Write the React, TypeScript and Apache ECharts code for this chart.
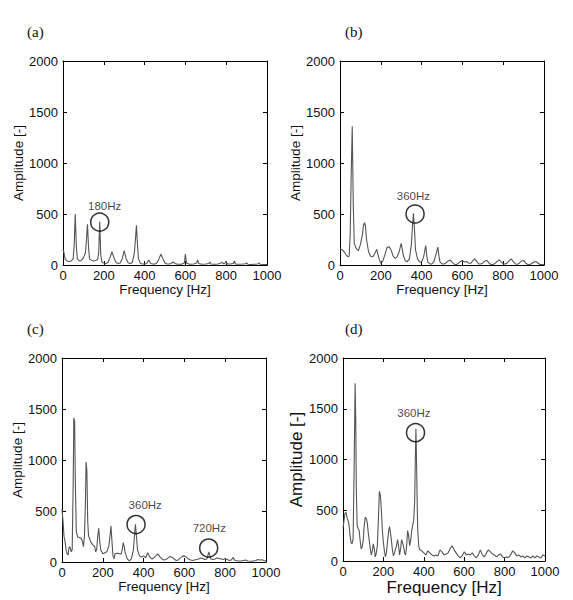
import React, { useEffect, useRef } from "react";
import * as echarts from "echarts";

// ---------- data ----------
const xTicks = [0, 200, 400, 600, 800, 1000];
const yTicks = [0, 500, 1000, 1500, 2000];

const freqA = [0, 5, 10, 20, 30, 40, 50, 55, 60, 65, 70, 80, 90, 100, 110, 115, 120, 125, 130, 140, 150, 160, 170, 175, 180, 185, 190, 200, 210, 220, 230, 240, 250, 260, 270, 280, 290, 300, 310, 320, 330, 340, 350, 355, 360, 365, 370, 380, 390, 400, 410, 420, 430, 440, 450, 460, 470, 480, 490, 500, 510, 520, 530, 540, 550, 560, 580, 595, 600, 605, 620, 640, 655, 660, 665, 680, 700, 715, 720, 725, 740, 760, 780, 790, 800, 805, 820, 835, 840, 845, 860, 880, 895, 900, 905, 920, 940, 955, 960, 965, 980, 1000];
const ampA = [150, 120, 60, 40, 35, 40, 60, 200, 500, 200, 60, 40, 45, 70, 120, 250, 400, 180, 60, 45, 40, 45, 55, 120, 425, 100, 30, 20, 15, 25, 70, 130, 70, 25, 15, 20, 60, 140, 60, 20, 15, 25, 120, 250, 390, 200, 60, 15, 10, 10, 15, 50, 15, 10, 10, 20, 60, 105, 60, 20, 10, 10, 15, 30, 15, 8, 8, 20, 108, 20, 8, 10, 20, 50, 15, 8, 10, 15, 30, 10, 8, 10, 25, 10, 35, 10, 10, 15, 40, 10, 8, 10, 12, 20, 8, 5, 8, 10, 20, 8, 5, 5];

const freqB = [0, 10, 20, 30, 40, 45, 50, 55, 60, 65, 70, 80, 90, 100, 110, 115, 120, 125, 130, 140, 150, 160, 170, 180, 190, 200, 210, 220, 230, 240, 250, 260, 270, 280, 290, 300, 310, 320, 330, 340, 350, 355, 360, 365, 370, 380, 390, 400, 410, 420, 425, 430, 440, 450, 460, 470, 480, 485, 490, 500, 510, 520, 530, 540, 550, 560, 570, 580, 590, 600, 610, 620, 630, 640, 650, 660, 670, 680, 690, 700, 710, 720, 730, 740, 750, 760, 770, 780, 790, 800, 810, 820, 830, 840, 850, 860, 870, 880, 890, 900, 910, 920, 930, 940, 950, 960, 970, 980, 1000];
const ampB = [160, 150, 130, 100, 80, 90, 300, 900, 1360, 600, 210, 160, 140, 200, 300, 390, 415, 380, 250, 130, 85, 80, 110, 154, 70, 16, 40, 100, 170, 180, 150, 90, 65, 80, 130, 212, 100, 40, 33, 60, 200, 380, 507, 350, 150, 60, 30, 30, 80, 190, 100, 30, 10, 10, 30, 100, 175, 90, 30, 10, 10, 20, 40, 50, 25, 8, 5, 15, 35, 45, 30, 35, 20, 15, 40, 60, 35, 10, 10, 20, 40, 45, 20, 5, 5, 15, 35, 50, 30, 10, 10, 20, 45, 60, 30, 10, 8, 20, 40, 45, 20, 5, 5, 15, 30, 35, 20, 5, 5];

const freqC = [0, 5, 10, 15, 20, 25, 30, 35, 40, 45, 50, 55, 58, 62, 65, 70, 77, 85, 95, 100, 105, 110, 115, 118, 122, 126, 130, 140, 150, 160, 165, 170, 175, 180, 185, 190, 200, 210, 220, 230, 235, 240, 245, 250, 255, 260, 270, 280, 290, 295, 300, 305, 310, 320, 330, 340, 350, 355, 360, 365, 370, 380, 390, 400, 410, 420, 430, 440, 450, 460, 470, 480, 490, 500, 510, 520, 530, 540, 550, 560, 570, 580, 590, 600, 610, 620, 630, 640, 650, 660, 670, 680, 690, 700, 710, 720, 725, 730, 740, 750, 760, 770, 780, 790, 800, 810, 820, 830, 840, 845, 860, 880, 900, 910, 930, 950, 960, 970, 980, 990, 1000];
const ampC = [520, 400, 250, 200, 120, 80, 70, 150, 140, 100, 120, 800, 1412, 1380, 830, 300, 245, 240, 230, 200, 150, 250, 600, 980, 900, 400, 260, 200, 170, 150, 100, 120, 250, 330, 200, 120, 80, 90, 100, 160, 250, 353, 200, 60, 30, 80, 85, 82, 80, 120, 190, 150, 90, 30, 10, 30, 120, 250, 370, 250, 120, 60, 50, 60, 40, 90, 50, 30, 40, 60, 80, 50, 30, 20, 25, 40, 55, 45, 30, 15, 20, 40, 55, 60, 45, 30, 20, 15, 20, 25, 30, 40, 35, 25, 30, 100, 60, 30, 25, 30, 40, 35, 30, 25, 35, 25, 15, 20, 45, 20, 10, 10, 20, 10, 8, 15, 25, 20, 22, 15, 10];

const freqD = [0, 5, 10, 15, 20, 25, 30, 35, 40, 45, 50, 55, 60, 63, 66, 70, 75, 80, 85, 90, 95, 100, 105, 110, 115, 120, 125, 130, 135, 140, 145, 150, 155, 160, 165, 170, 175, 180, 185, 190, 195, 200, 205, 210, 215, 220, 225, 230, 235, 240, 245, 250, 255, 260, 265, 270, 275, 280, 285, 290, 295, 300, 305, 310, 315, 320, 325, 330, 335, 340, 345, 350, 355, 358, 361, 364, 367, 370, 375, 380, 390, 400, 410, 420, 430, 440, 450, 460, 470, 480, 490, 500, 510, 520, 530, 540, 550, 560, 570, 580, 590, 600, 610, 620, 630, 640, 650, 660, 670, 680, 690, 700, 710, 720, 730, 740, 750, 760, 770, 780, 790, 800, 810, 820, 830, 840, 850, 860, 870, 880, 890, 900, 910, 920, 930, 940, 950, 960, 970, 980, 990, 1000];
const ampD = [320, 400, 470, 480, 430, 400, 350, 250, 180, 170, 220, 900, 1750, 1400, 700, 350, 320, 300, 200, 120, 140, 200, 350, 430, 420, 380, 280, 200, 120, 60, 100, 170, 120, 40, 80, 150, 400, 686, 650, 500, 300, 180, 100, 40, 80, 180, 280, 340, 280, 200, 100, 50, 80, 120, 150, 210, 150, 60, 120, 210, 180, 140, 80, 60, 150, 300, 250, 150, 200, 300, 350, 400, 600, 1000, 1304, 1000, 600, 300, 150, 110, 100, 80, 60, 100, 80, 60, 50, 60, 50, 110, 90, 60, 70, 80, 120, 150, 110, 80, 50, 30, 50, 90, 60, 70, 60, 80, 50, 30, 60, 110, 60, 40, 80, 110, 90, 70, 60, 40, 60, 70, 40, 30, 40, 35, 60, 100, 80, 50, 60, 40, 50, 30, 50, 40, 30, 50, 30, 50, 40, 30, 60, 50];

// annotation circles and their labels (data coordinates)
const circlesA = [[180, 420]];
const labelsA = [{ text: "180Hz", at: [204, 580] }];
const circlesB = [[368, 500]];
const labelsB = [{ text: "360Hz", at: [360, 680] }];
const circlesC = [[363, 367], [719, 137]];
const labelsC = [
  { text: "360Hz", at: [408, 556] },
  { text: "720Hz", at: [722, 333] },
];
const circlesD = [[359, 1264]];
const labelsD = [{ text: "360Hz", at: [351, 1461] }];

const panelLetters = ["(a)", "(b)", "(c)", "(d)"];

// ---------- layout ----------
const SANS = "'Liberation Sans', Arial, sans-serif";
const SERIF = "'Liberation Serif', 'Times New Roman', serif";

const panels = [
  { freq: freqA, amp: ampA, circles: circlesA, labels: labelsA, grid: { left: 63, top: 61, width: 204, height: 204 }, titleSize: 13.5, xGap: 17, yGap: 37, letter: { x: 27, y: 32 } },
  { freq: freqB, amp: ampB, circles: circlesB, labels: labelsB, grid: { left: 340, top: 61, width: 204, height: 204 }, titleSize: 13.5, xGap: 17, yGap: 38, letter: { x: 345, y: 32 } },
  { freq: freqC, amp: ampC, circles: circlesC, labels: labelsC, grid: { left: 62, top: 358, width: 204, height: 204 }, titleSize: 13.5, xGap: 17, yGap: 38, letter: { x: 27, y: 329 } },
  { freq: freqD, amp: ampD, circles: circlesD, labels: labelsD, grid: { left: 343, top: 358, width: 202, height: 203 }, titleSize: 17, xGap: 16, yGap: 37, letter: { x: 345, y: 329 } },
];

const plain = (v: number) => String(v);

function buildOption() {
  const grid: any[] = [];
  const xAxis: any[] = [];
  const yAxis: any[] = [];
  const series: any[] = [];
  const graphic: any[] = [];
  const lineStyle = { color: "#000", width: 1 };
  const tick = { show: true, inside: true, length: 4, lineStyle: { color: "#000", width: 1 } };

  panels.forEach((p, i) => {
    grid.push({ ...p.grid, show: false, containLabel: false });
    xAxis.push({
      gridIndex: i, type: "value", min: xTicks[0], max: xTicks[xTicks.length - 1], interval: xTicks[1] - xTicks[0],
      position: "bottom", name: "Frequency [Hz]", nameLocation: "middle", nameGap: p.xGap,
      nameTextStyle: { fontFamily: SANS, fontSize: p.titleSize, color: "#111", verticalAlign: "top" },
      axisLine: { show: true, onZero: false, lineStyle }, axisTick: tick,
      axisLabel: { margin: 4, formatter: plain, fontFamily: SANS, fontSize: 13, color: "#111", showMinLabel: true, showMaxLabel: true, hideOverlap: false },
      splitLine: { show: false },
    });
    xAxis.push({
      gridIndex: i, type: "value", min: xTicks[0], max: xTicks[xTicks.length - 1], interval: xTicks[1] - xTicks[0],
      position: "top", axisLine: { show: true, onZero: false, lineStyle }, axisTick: tick,
      axisLabel: { show: false }, splitLine: { show: false },
    });
    yAxis.push({
      gridIndex: i, type: "value", min: yTicks[0], max: yTicks[yTicks.length - 1], interval: yTicks[1] - yTicks[0],
      position: "left", name: "Amplitude [-]", nameLocation: "middle", nameGap: p.yGap, nameRotate: 90,
      nameTextStyle: { fontFamily: SANS, fontSize: p.titleSize, color: "#111" },
      axisLine: { show: true, onZero: false, lineStyle }, axisTick: tick,
      axisLabel: { margin: 5, formatter: plain, fontFamily: SANS, fontSize: 13, color: "#111", showMinLabel: true, showMaxLabel: true },
      splitLine: { show: false },
    });
    yAxis.push({
      gridIndex: i, type: "value", min: yTicks[0], max: yTicks[yTicks.length - 1], interval: yTicks[1] - yTicks[0],
      position: "right", axisLine: { show: true, onZero: false, lineStyle }, axisTick: tick,
      axisLabel: { show: false }, splitLine: { show: false },
    });

    series.push({
      type: "line", xAxisIndex: 2 * i, yAxisIndex: 2 * i, symbol: "none", smooth: false,
      data: p.freq.map((f, k) => [f, p.amp[k]]),
      lineStyle: { color: "#555", width: 1.1 }, silent: true,
    });
    series.push({
      type: "scatter", xAxisIndex: 2 * i, yAxisIndex: 2 * i, symbol: "circle", symbolSize: 18,
      data: p.circles,
      itemStyle: { color: "rgba(0,0,0,0)", borderColor: "#000", borderWidth: 1.5 }, z: 5, silent: true,
    });
    series.push({
      type: "scatter", xAxisIndex: 2 * i, yAxisIndex: 2 * i, symbol: "circle", symbolSize: 1,
      data: p.labels.map((l) => ({ name: l.text, value: l.at })),
      itemStyle: { color: "rgba(0,0,0,0)" },
      label: { show: true, position: "inside", formatter: "{b}", fontFamily: SANS, fontSize: 11.5, color: "#111" },
      z: 6, silent: true,
    });

    graphic.push({
      type: "text", left: p.letter.x, top: p.letter.y - 8,
      style: { text: panelLetters[i], font: `15px ${SERIF}`, fill: "#111" },
    });
  });

  return { animation: false, backgroundColor: "#fff", grid, xAxis, yAxis, series, graphic };
}

export default function App() {
  const ref = useRef<HTMLDivElement>(null);
  useEffect(() => {
    if (!ref.current) return;
    const chart = echarts.init(ref.current, undefined, { renderer: "svg" });
    chart.setOption(buildOption() as any);
    return () => chart.dispose();
  }, []);
  return (
    <div
      ref={ref}
      style={{ position: "absolute", left: 0, top: 0, width: 573, height: 600, background: "#fff" }}
    />
  );
}
